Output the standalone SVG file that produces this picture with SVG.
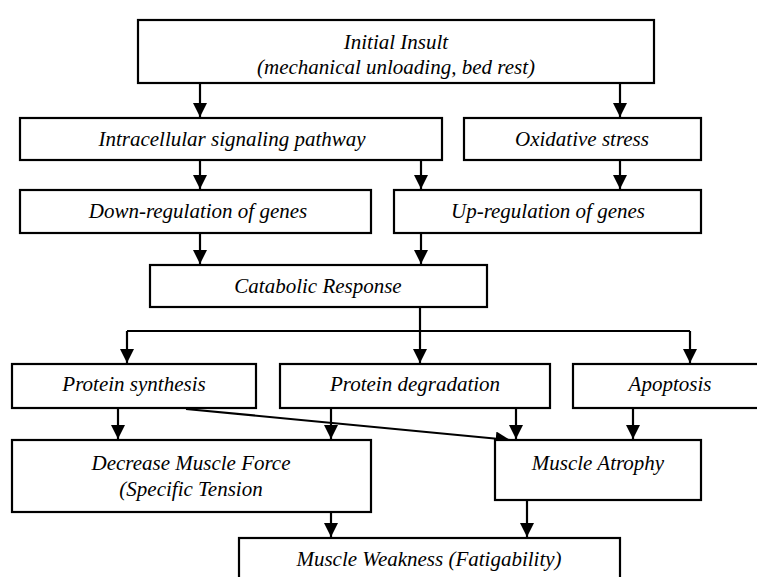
<svg xmlns="http://www.w3.org/2000/svg" width="757" height="577" viewBox="0 0 757 577">
  <style>
    .box { fill: #fff; stroke: #000; stroke-width: 2.2; }
    .lbl { font-family: "Liberation Serif", "Times New Roman", serif; font-style: italic; font-size: 21px; fill: #000; text-anchor: middle; }
    .wire { fill: none; stroke: #000; stroke-width: 2.2; }
  </style>
  <defs>
    <marker id="arrow" viewBox="0 0 10 10" refX="10" refY="5" markerWidth="6.5" markerHeight="6.5" markerUnits="strokeWidth" orient="auto">
      <path d="M0,0 L10,5 L0,10 Z" fill="#000"/>
    </marker>
  </defs>
  <rect width="757" height="577" fill="#fff"/>

  <g id="connectors">
    <path class="wire" d="M200,83 V117" marker-end="url(#arrow)"/>
    <path class="wire" d="M620,83 V117" marker-end="url(#arrow)"/>
    <path class="wire" d="M200,160 V189" marker-end="url(#arrow)"/>
    <path class="wire" d="M421,160 V189" marker-end="url(#arrow)"/>
    <path class="wire" d="M620,160 V189" marker-end="url(#arrow)"/>
    <path class="wire" d="M200,233 V264" marker-end="url(#arrow)"/>
    <path class="wire" d="M421,233 V264" marker-end="url(#arrow)"/>
    <path class="wire" d="M420,307 V363" marker-end="url(#arrow)"/>
    <path class="wire" d="M127,331 H690"/>
    <path class="wire" d="M127,331 V363" marker-end="url(#arrow)"/>
    <path class="wire" d="M690,331 V363" marker-end="url(#arrow)"/>
    <path class="wire" d="M118,408 V439" marker-end="url(#arrow)"/>
    <path class="wire" d="M331,408 V439" marker-end="url(#arrow)"/>
    <path class="wire" d="M516,408 V439" marker-end="url(#arrow)"/>
    <path class="wire" d="M633,408 V439" marker-end="url(#arrow)"/>
    <path class="wire" d="M186,409 L510,440" marker-end="url(#arrow)"/>
    <path class="wire" d="M331,512 V537" marker-end="url(#arrow)"/>
    <path class="wire" d="M527,500 V537" marker-end="url(#arrow)"/>
  </g>

  <g id="initial-insult">
    <rect class="box" x="138" y="20" width="516" height="63"/>
    <text class="lbl" x="396" y="49">Initial Insult</text>
    <text class="lbl" x="396" y="74">(mechanical unloading, bed rest)</text>
  </g>
  <g id="intracellular-signaling">
    <rect class="box" x="20" y="118" width="422" height="42"/>
    <text class="lbl" x="232" y="146">Intracellular signaling pathway</text>
  </g>
  <g id="oxidative-stress">
    <rect class="box" x="464" y="118" width="237" height="42"/>
    <text class="lbl" x="582" y="146">Oxidative stress</text>
  </g>
  <g id="down-regulation">
    <rect class="box" x="20" y="190" width="351" height="43"/>
    <text class="lbl" x="198" y="218">Down-regulation of genes</text>
  </g>
  <g id="up-regulation">
    <rect class="box" x="394" y="190" width="307" height="43"/>
    <text class="lbl" x="548" y="218">Up-regulation of genes</text>
  </g>
  <g id="catabolic-response">
    <rect class="box" x="150" y="265" width="337" height="42"/>
    <text class="lbl" x="318" y="293">Catabolic Response</text>
  </g>
  <g id="protein-synthesis">
    <rect class="box" x="12" y="364" width="244" height="44"/>
    <text class="lbl" x="134" y="391">Protein synthesis</text>
  </g>
  <g id="protein-degradation">
    <rect class="box" x="280" y="364" width="270" height="44"/>
    <text class="lbl" x="415" y="391">Protein degradation</text>
  </g>
  <g id="apoptosis">
    <rect class="box" x="573" y="364" width="196" height="44"/>
    <text class="lbl" x="670" y="391">Apoptosis</text>
  </g>
  <g id="decrease-muscle-force">
    <rect class="box" x="12" y="440" width="359" height="72"/>
    <text class="lbl" x="191" y="470">Decrease Muscle Force</text>
    <text class="lbl" x="191" y="496">(Specific Tension</text>
  </g>
  <g id="muscle-atrophy">
    <rect class="box" x="495" y="440" width="206" height="60"/>
    <text class="lbl" x="598" y="470">Muscle Atrophy</text>
  </g>
  <g id="muscle-weakness">
    <rect class="box" x="239" y="538" width="381" height="50"/>
    <text class="lbl" x="429" y="566">Muscle Weakness (Fatigability)</text>
  </g>
</svg>
